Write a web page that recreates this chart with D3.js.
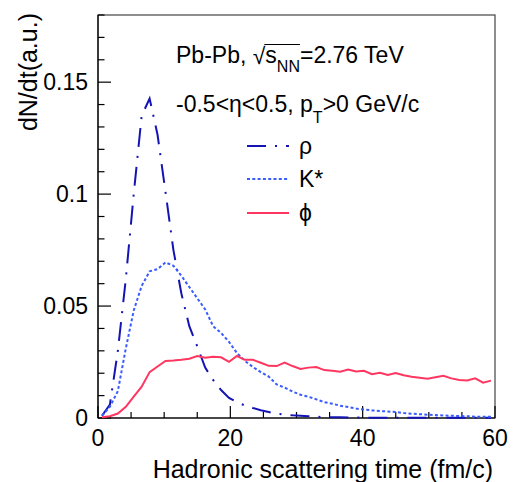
<!DOCTYPE html>
<html><head><meta charset="utf-8">
<script src="https://cdn.jsdelivr.net/npm/d3@7"></script>
<style>
body{margin:0;background:#fff}
svg{display:block}
text{font-family:"Liberation Sans",Arial,Helvetica,sans-serif;fill:#000;white-space:pre}
</style>
</head><body>
<svg id="c" width="522" height="482"></svg>
<script>
// ---- data (histogram, 50 bins of 1.2 fm/c over 0-60) ----
const binWidth = 1.2;
const rho = [0.001,0.006,0.030,0.062,0.100,0.135,0.1427,0.1265,0.101,0.075,
             0.0556,0.041,0.032,0.0225,0.017,0.0125,0.009,0.007,0.0056,0.0045,
             0.0035,0.0027,0.0019,0.0015,0.0012,0.0010,0.0008,0.0006,0.0004,0.0003,
             0.0003,0.0002,0.0002,0.0002,0.0001,0.0001,0.0001,0.0001,0.0001,0.0001,
             0.0001,0.0001,0.0001,0.0001,0.0001,0.0001,0.0001,0.0001,0.0001,0.0001];
const kstar = [0.001,0.005,0.012,0.031,0.048,0.059,0.0655,0.0665,0.0695,0.068,
               0.0635,0.0585,0.0535,0.0485,0.041,0.038,0.034,0.029,0.0255,0.0228,
               0.0205,0.0185,0.015,0.0136,0.0118,0.0104,0.0095,0.0083,0.0071,0.0064,
               0.0055,0.0049,0.0042,0.0038,0.0034,0.0031,0.0029,0.0027,0.0022,0.0019,
               0.0017,0.0015,0.0013,0.0011,0.0010,0.0009,0.0008,0.0006,0.0006,0.0006];
const phi = [0.0003,0.0008,0.002,0.005,0.0095,0.014,0.0205,0.023,0.0255,0.0257,
             0.026,0.0265,0.0277,0.0269,0.0274,0.0271,0.0251,0.0277,0.026,0.026,
             0.0247,0.0233,0.0232,0.0247,0.0232,0.0219,0.0225,0.0228,0.0214,0.0211,
             0.0207,0.0217,0.0208,0.0211,0.0196,0.0202,0.0192,0.0201,0.0191,0.0184,
             0.018,0.0175,0.0182,0.0189,0.0177,0.017,0.0168,0.0177,0.0158,0.0167];
const seriesNames = ["\u03C1","K*","\u03D5"];
const xTicks = [0,20,40,60];
const yTicks = [0,0.05,0.1,0.15];
const yTickLabels = ["0","0.05","0.1","0.15"];

// ---- layout ----
const L=98, R=495, T=15, B=418;
const svg = d3.select("#c");
const x = d3.scaleLinear().domain([0,60]).range([L,R]);
const y = d3.scaleLinear().domain([0,0.18]).range([B,T]);
const centers = d3.range(rho.length).map(i => (i+0.5)*binWidth);

// frame
svg.append("rect").attr("x",L).attr("y",T).attr("width",R-L).attr("height",B-T)
  .attr("fill","none").attr("stroke","#444").attr("stroke-width",1.2);

// y axis ticks
const gy = svg.append("g");
d3.range(0,0.1801,0.01).forEach(v=>{
  const major = Math.abs(v/0.05 - Math.round(v/0.05))<1e-6;
  gy.append("line").attr("x1",L).attr("x2",L+(major?13:6.5))
    .attr("y1",y(v)).attr("y2",y(v)).attr("stroke","#000").attr("stroke-width",1.2);
});
yTicks.forEach((v,i)=>{
  gy.append("text").attr("x",88).attr("y",y(v)).attr("dy","0.36em")
    .attr("text-anchor","end").style("font-size","23px").text(yTickLabels[i]);
});
// x axis ticks
const gx = svg.append("g");
d3.range(0,60.01,5).forEach(v=>{
  const major = v%20===0;
  gx.append("line").attr("x1",x(v)).attr("x2",x(v))
    .attr("y1",B).attr("y2",B-(major?12:6)).attr("stroke","#000").attr("stroke-width",1.2);
});
xTicks.forEach(v=>{
  gx.append("text").attr("x",x(v)).attr("y",446).attr("text-anchor","middle")
    .style("font-size","23px").text(v);
});
svg.append("line").attr("x1",L).attr("x2",R).attr("y1",B).attr("y2",B).attr("stroke","#000").attr("stroke-width",1.2);
svg.append("line").attr("x1",L).attr("x2",L).attr("y1",T).attr("y2",B).attr("stroke","#000").attr("stroke-width",1.2);

// axis titles
svg.append("text").attr("x",493).attr("y",478).attr("text-anchor","end")
  .style("font-size","25px").text("Hadronic scattering time (fm/c)");
svg.append("text").attr("transform","translate(37,13) rotate(-90)").attr("text-anchor","end")
  .style("font-size","25px").text("dN/dt(a.u.)");

// curves
const styles = [
  {data:rho,  color:"#1414b4", dash:"19,9,2,9"},
  {data:kstar,color:"#3a5cff", dash:"3,2.3"},
  {data:phi,  color:"#ff3660", dash:null}
];
const line = d3.line().x((d,i)=>x(centers[i])).y(d=>y(d));
styles.forEach(s=>{
  svg.append("path").attr("d",line(s.data)).attr("fill","none")
    .attr("stroke",s.color).attr("stroke-width",2)
    .attr("stroke-dasharray",s.dash);
});

// legend
const legY=[146,179,213];
styles.forEach((s,i)=>{
  svg.append("line").attr("x1",247).attr("x2",289).attr("y1",legY[i]).attr("y2",legY[i])
    .attr("stroke",s.color).attr("stroke-width",2).attr("stroke-dasharray",s.dash);
  svg.append("text").attr("x",299).attr("y",legY[i]).attr("dy","0.36em")
    .style("font-size","23px").text(seriesNames[i]);
});

// header text line 1: Pb-Pb, sqrt(s_NN)=2.76 TeV
const fs=23, sub=16;
let cx=176, by=63;
function put(str,size,yy){
  const t=svg.append("text").attr("x",cx).attr("y",yy).style("font-size",size+"px").text(str);
  const w=t.node().getComputedTextLength(); cx+=w; return t;
}
put("Pb-Pb, ",fs,by);
put("\u221A",fs,by+1);
const ovStart=cx;
put("s",fs,by);
put("NN",sub,by+9);
const ovEnd=cx;
svg.append("line").attr("x1",ovStart-1).attr("x2",ovEnd).attr("y1",44.5).attr("y2",44.5)
  .attr("stroke","#000").attr("stroke-width",1);
put("=2.76 TeV",fs,by);

// header text line 2
cx=176; by=112;
put("-0.5<\u03B7<0.5, p",fs,by);
put("T",sub,by+11);
put(">0 GeV/c",fs,by);
</script>
</body></html>
